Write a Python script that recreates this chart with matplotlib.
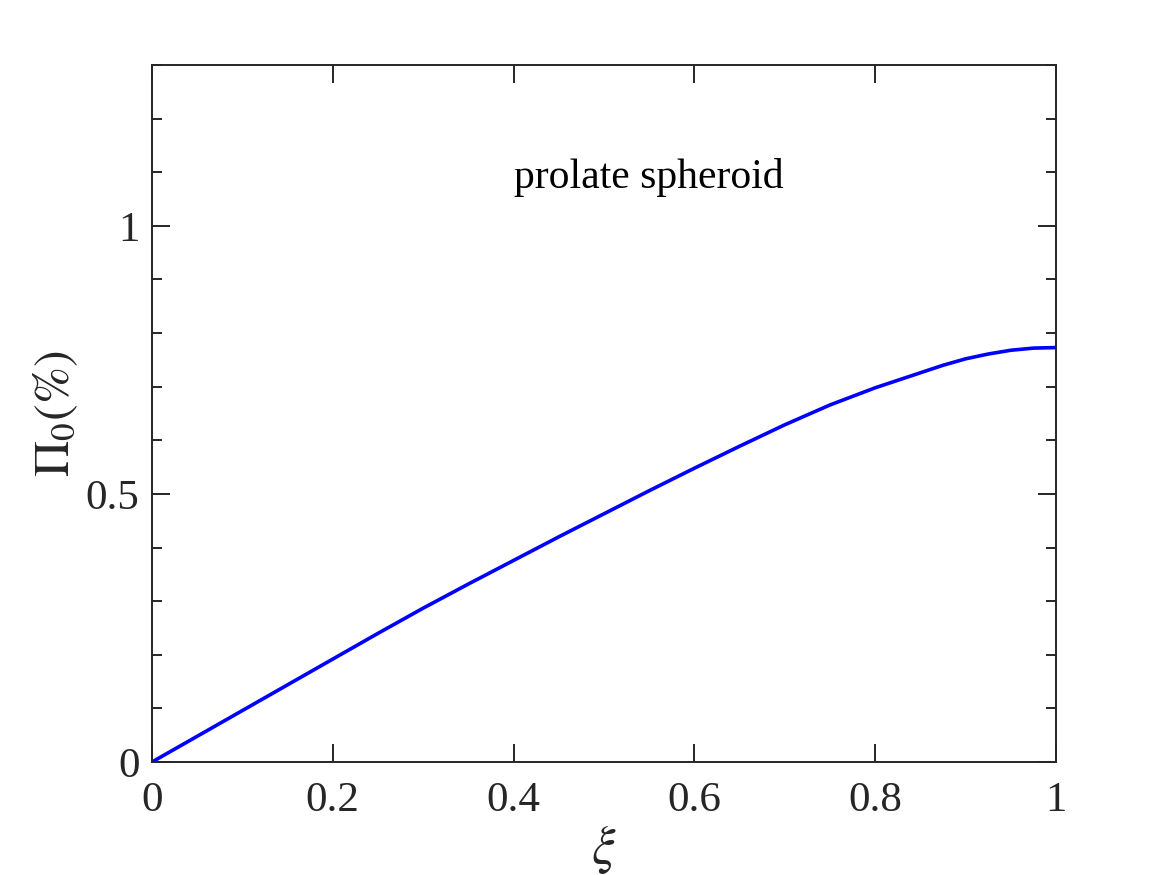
import matplotlib
matplotlib.use("Agg")
from matplotlib import pyplot as plt
from matplotlib.ticker import MultipleLocator

plt.rcParams['font.family'] = ['Liberation Serif', 'DejaVu Serif']
plt.rcParams['mathtext.fontset'] = 'stix'

# values
xi = [0.00, 0.05, 0.10, 0.15, 0.20, 0.25, 0.30, 0.35, 0.40, 0.45, 0.50,
      0.55, 0.60, 0.65, 0.70, 0.75, 0.80, 0.85, 0.875, 0.90, 0.925, 0.95, 0.975, 1.00]
pi0 = [0.000, 0.048, 0.096, 0.144, 0.192, 0.240, 0.287, 0.332, 0.376, 0.420, 0.463,
       0.506, 0.548, 0.589, 0.629, 0.666, 0.698, 0.726, 0.740, 0.752, 0.761, 0.768, 0.772, 0.773]
x_ticks = [0, 0.2, 0.4, 0.6, 0.8, 1]
x_labels = ['0', '0.2', '0.4', '0.6', '0.8', '1']
y_ticks = [0, 0.5, 1]
y_labels = ['0', '0.5', '1']

dark = '#262626'

fig = plt.figure(figsize=(11.67, 8.75), dpi=100)
ax = fig.add_axes([0.1302, 0.1291, 0.7747, 0.7966])

ax.plot(xi, pi0, color='blue', lw=2.6, solid_capstyle='butt', solid_joinstyle='round')

ax.set_xlim(0, 1)
ax.set_ylim(0, 1.3)
ax.set_xticks(x_ticks)
ax.set_xticklabels(x_labels)
ax.set_yticks(y_ticks)
ax.set_yticklabels(y_labels)
ax.yaxis.set_minor_locator(MultipleLocator(0.1))

ax.tick_params(which='both', direction='in', top=True, right=True,
               colors=dark, width=1.4, labelsize=31, pad=9)
ax.tick_params(axis='x', pad=14)
ax.tick_params(which='major', length=13)
ax.tick_params(which='minor', length=7)
for s in ax.spines.values():
    s.set_color(dark)
    s.set_linewidth(1.4)

ax.text(0.4, 1.09, 'prolate spheroid', fontsize=30, va='center', ha='left', color='black')

ax.set_xlabel(r'$\xi$', fontsize=38, color=dark, labelpad=2)
ax.set_ylabel(r'$\Pi_0(\%)$', fontsize=36, color=dark, labelpad=4)

fig.savefig('out.png', dpi=100)
